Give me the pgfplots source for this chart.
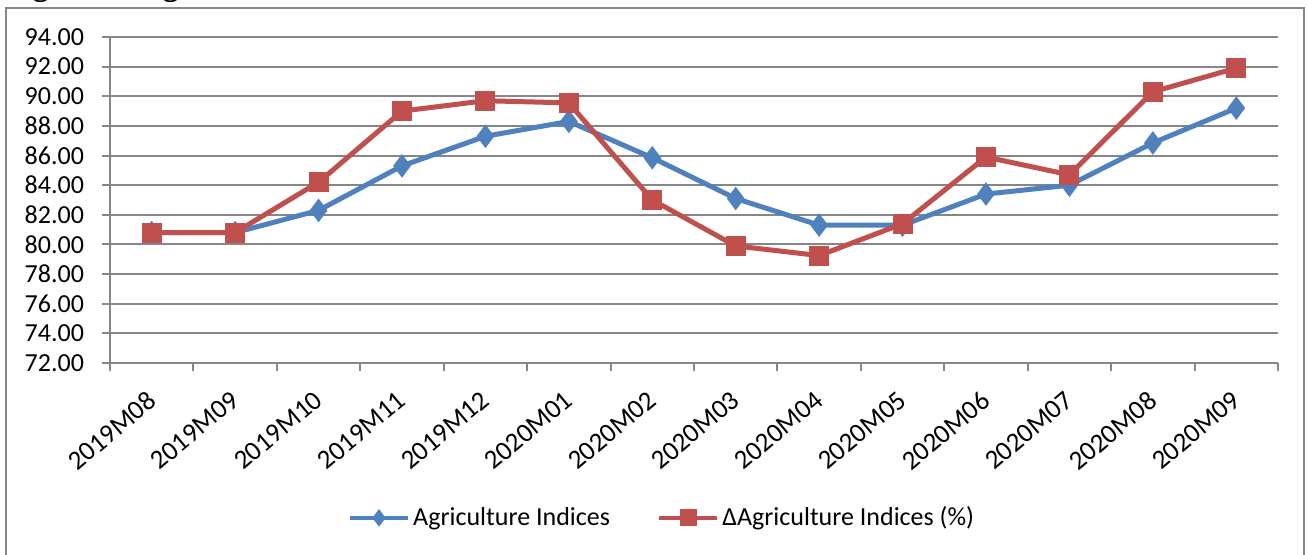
\documentclass[border=0pt]{standalone}
\usepackage{fontspec}
\setmainfont{Carlito}
\newfontfamily\titlefont{Liberation Serif}
\usepackage{pgfplots}
\pgfplotsset{compat=1.18}
\definecolor{blueS}{RGB}{79,129,189}
\definecolor{redS}{RGB}{192,80,77}
\definecolor{gridc}{RGB}{134,134,134}
\begin{document}
\begin{tikzpicture}
\path[use as bounding box] (-55pt,-96pt) rectangle (599pt,181.5pt);
\clip (-55pt,-96pt) rectangle (599pt,181.5pt);
\draw[gridc, line width=1pt] (-52pt,177.5pt) rectangle (597pt,-110pt);
\node[anchor=base west, inner sep=0pt, font=\titlefont\bfseries\fontsize{16pt}{18pt}\selectfont] at (-53pt,183.5pt) {Figure 3: Agricultural Sector Indices};
\begin{axis}[
  at={(0pt,0pt)}, anchor=south west, scale only axis,
  width=584pt, height=163pt,
  xmin=-0.5, xmax=13.5, ymin=72, ymax=94,
  axis x line*=bottom, axis y line*=left,
  axis line style={gridc, line width=1pt, -},
  tick align=outside,
  major tick length=4pt, minor tick length=4pt,
  every tick/.append style={gridc, line width=1pt},
  ytick={72,74,...,94},
  yticklabels={72.00,74.00,76.00,78.00,80.00,82.00,84.00,86.00,88.00,90.00,92.00,94.00},
  yticklabel style={font=\fontsize{13pt}{15pt}\selectfont, xshift=-5.5pt},
  ymajorgrids, grid style={gridc, line width=1pt},
  xtick={0,...,13},
  xticklabels={2019M08,2019M09,2019M10,2019M11,2019M12,2020M01,2020M02,2020M03,2020M04,2020M05,2020M06,2020M07,2020M08,2020M09},
  every major x tick/.append style={draw=none},
  minor xtick={-0.5,0.5,...,13.5},
  xticklabel style={font=\fontsize{13.5pt}{15pt}\selectfont, xshift=-2.5pt, yshift=-4.5pt, rotate=40, anchor=north east},
  legend style={at={(0.473,-0.475)}, anchor=center, draw=none, fill=none,
    legend columns=2, font=\fontsize{13pt}{15pt}\selectfont,
    /tikz/every even column/.append style={column sep=22pt},
    nodes={inner sep=1.5pt}},
  legend image code/.code={\draw[mark repeat=2,mark phase=2,#1,mark size=4pt,line width=2.2pt] plot coordinates {(0pt,0pt)(14.5pt,0pt)(29pt,0pt)};},
]
\addplot[blueS, line width=2.5pt, mark=diamond*, mark size=5.5pt, mark options={solid, fill=blueS, line width=0.5pt}]
coordinates {(0,80.8)(1,80.8)(2,82.3)(3,85.3)(4,87.3)(5,88.3)(6,85.85)(7,83.1)(8,81.3)(9,81.3)(10,83.4)(11,84.0)(12,86.85)(13,89.2)};
\addlegendentry{Agriculture Indices}
\addplot[redS, line width=2.5pt, mark=square*, mark size=4.75pt, mark options={solid, fill=redS, line width=0.5pt}]
coordinates {(0,80.8)(1,80.8)(2,84.2)(3,89.0)(4,89.7)(5,89.55)(6,83.0)(7,79.9)(8,79.25)(9,81.4)(10,85.9)(11,84.7)(12,90.3)(13,91.9)};
\addlegendentry{ΔAgriculture Indices (\%)}
\end{axis}
\end{tikzpicture}
\end{document}
